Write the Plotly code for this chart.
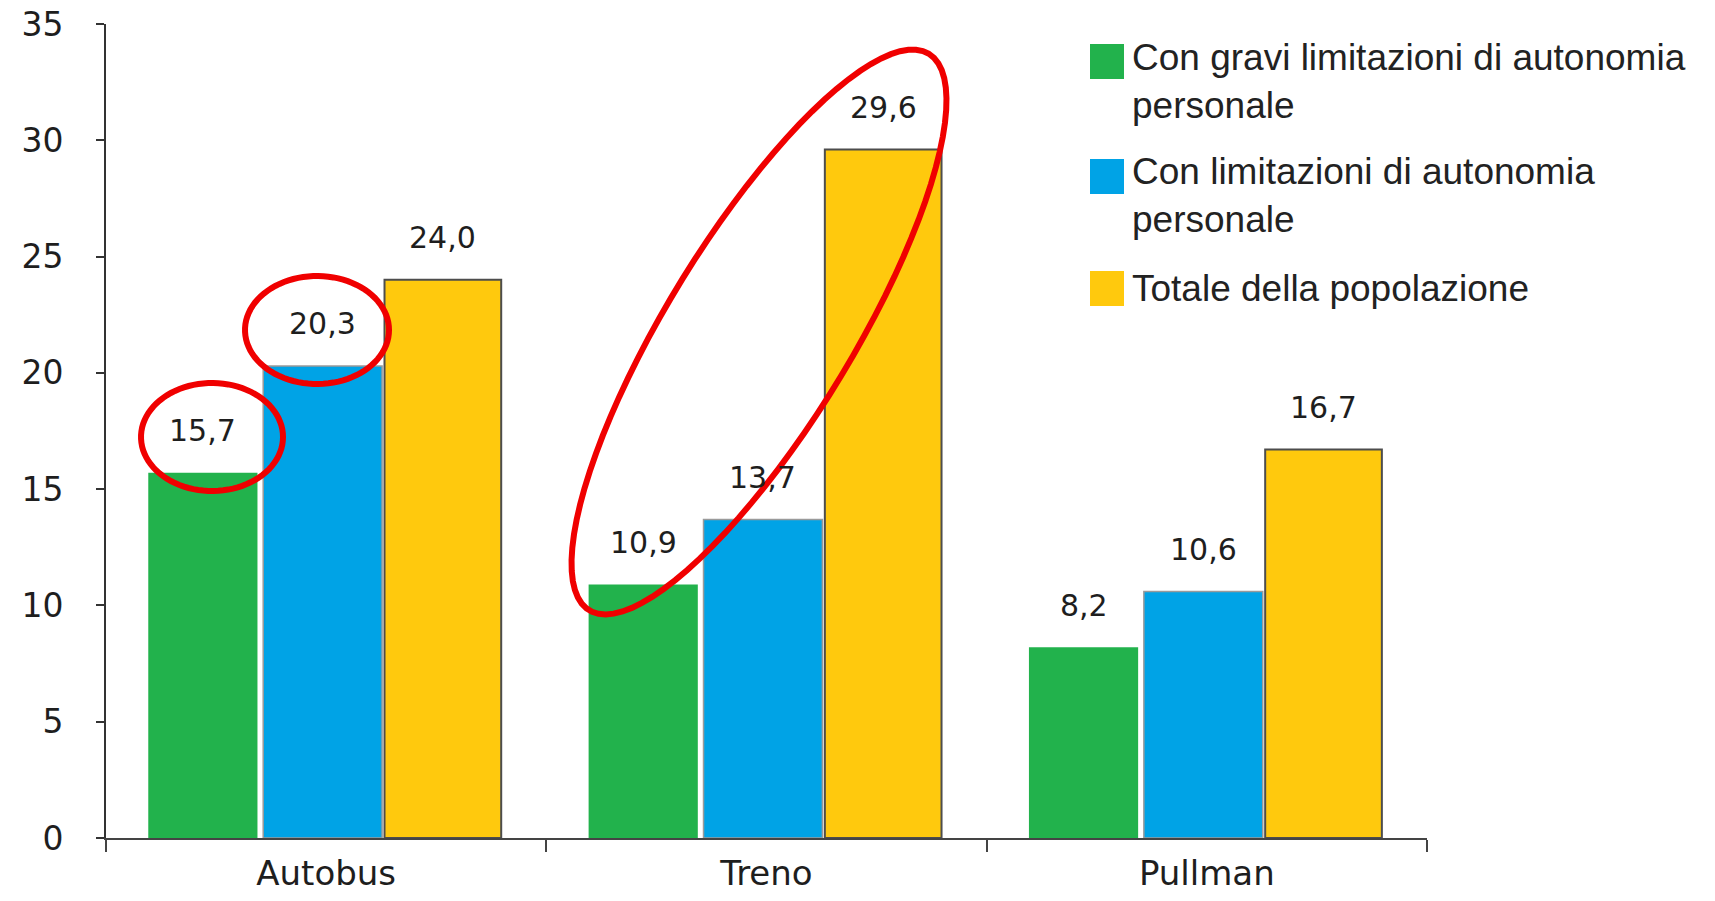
import numpy as np
import plotly.graph_objects as go

# ---------------- data ----------------
categories = ["Autobus", "Treno", "Pullman"]
series_names = [
    "Con gravi limitazioni di autonomia personale",
    "Con limitazioni di autonomia personale",
    "Totale della popolazione",
]
legend_labels = [
    "Con gravi limitazioni di autonomia<br>personale",
    "Con limitazioni di autonomia<br>personale",
    "Totale della popolazione",
]
gravi = [15.7, 10.9, 8.2]
limitazioni = [20.3, 13.7, 10.6]
totale = [24.0, 29.6, 16.7]
y_ticks = [0, 5, 10, 15, 20, 25, 30, 35]

values = [gravi, limitazioni, totale]
colors = ["#22b24c", "#00a3e6", "#ffc90d"]
line_colors = ["#22b24c", "#9a9a9a", "#4d4d4d"]
line_widths = [0, 1.5, 2]
# bar centre offsets and widths (in category units)
bar_centres = [-0.280, -0.008, 0.265]
bar_widths = [0.248, 0.270, 0.265]

# ---------------- layout geometry ----------------
W, H = 1715, 901
ML, MR, MT, MB = 106, 288, 24, 63
PW, PH = W - ML - MR, H - MT - MB


def px2x(px):
    return (px - ML) / PW


def px2y(py):
    return (H - MB - py) / PH


fig = go.Figure()
for j, (name, vals) in enumerate(zip(series_names, values)):
    fig.add_trace(go.Bar(
        name=name,
        x=categories,
        y=vals,
        width=bar_widths[j],
        offset=bar_centres[j] - bar_widths[j] / 2,
        marker=dict(color=colors[j], line=dict(color=line_colors[j], width=line_widths[j])),
        showlegend=False,
    ))

annotations = []
num_font = dict(family="DejaVu Sans", size=30, color="#1e1e1e")
for j, vals in enumerate(values):
    for i, v in enumerate(vals):
        annotations.append(dict(
            x=i + bar_centres[j], y=v, xref="x", yref="y",
            text=f"{v:.1f}".replace(".", ","),
            showarrow=False, yanchor="middle", yshift=42,
            font=num_font,
        ))

shapes = []
# manual legend
legend_sq_top = [44, 159, 271]
legend_text_y = [81, 195, 288]
for j in range(3):
    shapes.append(dict(
        type="rect", xref="paper", yref="paper",
        x0=px2x(1090), x1=px2x(1124),
        y0=px2y(legend_sq_top[j] + 35), y1=px2y(legend_sq_top[j]),
        fillcolor=colors[j], line=dict(width=0), layer="above",
    ))
    annotations.append(dict(
        x=px2x(1130), y=px2y(legend_text_y[j]), xref="paper", yref="paper",
        text=legend_labels[j], showarrow=False, xanchor="left", yanchor="middle",
        align="left", font=dict(family="Liberation Sans, Arial", size=37, color="#222222"),
    ))


def ellipse_path(cx, cy, a, b, theta_deg):
    th = np.radians(theta_deg)
    t = np.linspace(0, 2 * np.pi, 90)
    xs = cx + a * np.cos(t) * np.cos(th) - b * np.sin(t) * np.sin(th)
    ys_up = a * np.cos(t) * np.sin(th) + b * np.sin(t) * np.cos(th)
    ys = cy - ys_up
    pts = [f"{px2x(x):.5f},{px2y(y):.5f}" for x, y in zip(xs, ys)]
    return "M" + " L".join(pts) + " Z"


red_line = dict(color="#f00000", width=6)
for (cx, cy, a, b, th) in [(212, 437, 71, 54, 0), (317, 330, 72, 54, 0), (759, 332, 326, 93, 58.6)]:
    shapes.append(dict(type="path", xref="paper", yref="paper",
                       path=ellipse_path(cx, cy, a, b, th), line=red_line, layer="above"))

fig.update_layout(
    width=W, height=H,
    margin=dict(l=ML, r=MR, t=MT, b=MB, pad=0),
    paper_bgcolor="white", plot_bgcolor="white",
    barmode="group",
    showlegend=False,
    annotations=annotations,
    shapes=shapes,
    xaxis=dict(
        type="category", showgrid=False, showline=True, linecolor="#444444", linewidth=2,
        ticks="outside", tickson="boundaries", ticklen=12, tickwidth=2, tickcolor="#444444",
        tickfont=dict(family="DejaVu Sans", size=34, color="#1e1e1e"),
        ticklabelstandoff=4, automargin=False, zeroline=False,
    ),
    yaxis=dict(
        range=[0, 35], tickvals=y_ticks, showgrid=False, zeroline=False,
        showline=True, linecolor="#333333", linewidth=2,
        ticks="outside", ticklen=8, tickwidth=2, tickcolor="#333333",
        tickfont=dict(family="DejaVu Sans", size=33, color="#1e1e1e"),
        ticklabelstandoff=26, automargin=False,
    ),
)

fig.write_html("out.html")
